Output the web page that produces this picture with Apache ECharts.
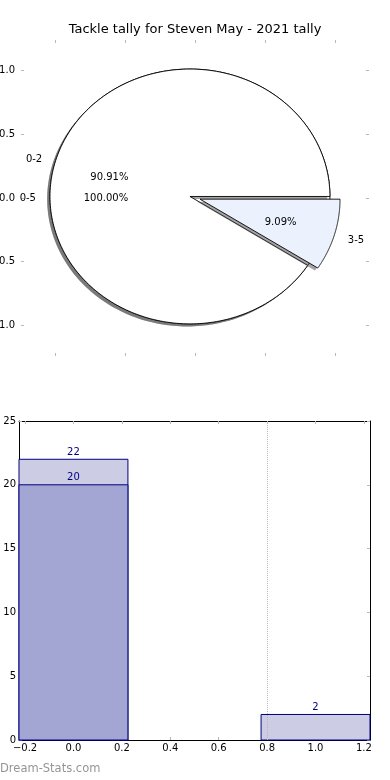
<!DOCTYPE html>
<html>
<head>
<meta charset="utf-8">
<script src="https://cdn.jsdelivr.net/npm/echarts@6/dist/echarts.min.js"></script>
<style>
  html, body { margin: 0; padding: 0; background: #fff; }
  #chart { width: 390px; height: 780px; }
</style>
</head>
<body>
<div id="chart"></div>
<script>
// ---------- data ----------
const titleText = 'Tackle tally for Steven May - 2021 tally';
// outer (full) pie
const outerLabels = ['0-5'];
const outerValues = [22];
// inner pie
const innerLabels = ['0-2', '3-5'];
const innerValues = [20, 2];
const innerExplode = [0, 0.075];
// pie axis ticks
const pieTicks = [-1, -0.5, 0, 0.5, 1];
// bar chart
const barPositions = [0, 1];
const totalCounts = [22, 2];
const lowCounts = [20, null];
const barXTicks = [-0.2, 0, 0.2, 0.4, 0.6, 0.8, 1.0, 1.2];
const barYTicks = [0, 5, 10, 15, 20, 25];
const refLineX = [0.8];
const watermark = 'Dream-Stats.com';

// ---------- style constants ----------
const FONT = 'DejaVu Sans';
const PIE_CENTER = [-0.036, 0.012];
const SHADOW_OFF = [-0.02, -0.02];
const BAR_W = 0.45;
const TICK_COLOR = '#b8b8b8';
const NAVY = '#000080';
const TEXT_DY = 2;

function fmtTick(v) {
  const s = Math.abs(v).toFixed(1);
  return v < 0 ? '\u2212' + s : s;
}

// build pie slice descriptors from values
const slices = [];
function addPie(labels, values, explode, colors) {
  const total = values.reduce((a, b) => a + b, 0);
  let a = 0;
  values.forEach((v, i) => {
    const span = 360 * v / total;
    slices.push({
      label: labels[i],
      pct: (100 * v / total).toFixed(2) + '%',
      a0: a, a1: a + span,
      explode: explode ? explode[i] : 0,
      color: colors[i]
    });
    a += span;
  });
}
addPie(outerLabels, outerValues, null, ['#ffffff']);
addPie(innerLabels, innerValues, innerExplode, ['#ffffff', '#ebf1fd']);

function shadowColor(hex) {
  const r = parseInt(hex.slice(1, 3), 16), g = parseInt(hex.slice(3, 5), 16), b = parseInt(hex.slice(5, 7), 16);
  return 'rgba(' + Math.round(r * 0.3) + ',' + Math.round(g * 0.3) + ',' + Math.round(b * 0.3) + ',0.5)';
}

function pieRender(params, api) {
  const s = slices[params.dataIndex];
  const d2r = Math.PI / 180;
  const mid = (s.a0 + s.a1) / 2 * d2r;
  const cx = PIE_CENTER[0] + s.explode * Math.cos(mid);
  const cy = PIE_CENTER[1] + s.explode * Math.sin(mid);
  const full = (s.a1 - s.a0) >= 359.999;
  function pts(dx, dy) {
    const out = [];
    if (!full) out.push(api.coord([cx + dx, cy + dy]));
    const N = 240;
    for (let k = 0; k <= N; k++) {
      const t = (s.a0 + (s.a1 - s.a0) * k / N) * d2r;
      out.push(api.coord([cx + dx + Math.cos(t), cy + dy + Math.sin(t)]));
    }
    return out;
  }
  const base = params.dataIndex * 2;
  const lp = api.coord([cx + 1.1 * Math.cos(mid), cy + 1.1 * Math.sin(mid)]);
  const pp = api.coord([cx + 0.6 * Math.cos(mid), cy + 0.6 * Math.sin(mid)]);
  return {
    type: 'group',
    children: [
      { type: 'polygon', z2: base, shape: { points: pts(SHADOW_OFF[0], SHADOW_OFF[1]) },
        style: { fill: shadowColor(s.color), stroke: null } },
      { type: 'polygon', z2: base + 1, shape: { points: pts(0, 0) },
        style: { fill: s.color, stroke: '#000', lineWidth: 0.9 } },
      { type: 'text', z2: 100, x: lp[0], y: lp[1] + TEXT_DY,
        style: { text: s.label, fill: '#000', fontSize: 10, fontFamily: FONT,
                 align: Math.cos(mid) < 0 ? 'right' : 'left', verticalAlign: 'middle' } },
      { type: 'text', z2: 100, x: pp[0], y: pp[1] + TEXT_DY,
        style: { text: s.pct, fill: '#000', fontSize: 10, fontFamily: FONT,
                 align: 'center', verticalAlign: 'middle' } }
    ]
  };
}

function barRender(fill) {
  return function (params, api) {
    const x = api.value(0), v = api.value(1);
    const p0 = api.coord([x - BAR_W / 2, v]);
    const p1 = api.coord([x + BAR_W / 2, 0]);
    return {
      type: 'group',
      children: [
        { type: 'rect', shape: { x: p0[0], y: p0[1], width: p1[0] - p0[0], height: p1[1] - p0[1] },
          style: { fill: fill, stroke: NAVY, lineWidth: 1 } },
        { type: 'text', z2: 50, x: (p0[0] + p1[0]) / 2, y: p0[1] - 2,
          style: { text: String(v), fill: NAVY, fontSize: 10, fontFamily: FONT,
                   align: 'center', verticalAlign: 'bottom' } }
      ]
    };
  };
}

function tick(values) {
  return { show: true, inside: true, length: 3, customValues: values,
           lineStyle: { color: TICK_COLOR, width: 1 } };
}
const noLine = { show: false, onZero: false };
const frameLine = { show: true, onZero: false, lineStyle: { color: '#000', width: 1 } };

const option = {
  animation: false,
  backgroundColor: '#fff',
  title: {
    text: titleText, left: 'center', top: 23, padding: 0,
    textStyle: { fontSize: 13, fontWeight: 'normal', fontFamily: FONT, color: '#000' }
  },
  graphic: [{
    type: 'text', left: 0, top: 763,
    style: { text: watermark, fill: '#959595', fontSize: 11.5, fontFamily: FONT }
  }],
  grid: [
    { left: 21, right: 21, top: 40, height: 316, outerBoundsMode: 'none', containLabel: false },
    { left: 19, right: 20, top: 421, height: 319, outerBoundsMode: 'none', containLabel: false }
  ],
  xAxis: [
    { gridIndex: 0, type: 'value', min: -1.243, max: 1.243, position: 'bottom',
      axisLine: noLine, splitLine: { show: false }, axisTick: tick(pieTicks), axisLabel: { show: false } },
    { gridIndex: 0, type: 'value', min: -1.243, max: 1.243, position: 'top',
      axisLine: noLine, splitLine: { show: false }, axisTick: tick(pieTicks), axisLabel: { show: false } },
    { gridIndex: 1, type: 'value', min: -0.225, max: 1.225, position: 'bottom',
      axisLine: frameLine, splitLine: { show: false }, axisTick: tick(barXTicks),
      axisLabel: { customValues: barXTicks, formatter: fmtTick, fontSize: 10, fontFamily: FONT, color: '#000', margin: 3 } },
    { gridIndex: 1, type: 'value', min: -0.225, max: 1.225, position: 'top',
      axisLine: frameLine, splitLine: { show: false }, axisTick: tick(barXTicks), axisLabel: { show: false } }
  ],
  yAxis: [
    { gridIndex: 0, type: 'value', min: -1.24, max: 1.24, position: 'left',
      axisLine: noLine, splitLine: { show: false }, axisTick: tick(pieTicks),
      axisLabel: { customValues: pieTicks, formatter: fmtTick, fontSize: 10, fontFamily: FONT, color: '#000', margin: 6 } },
    { gridIndex: 0, type: 'value', min: -1.24, max: 1.24, position: 'right',
      axisLine: noLine, splitLine: { show: false }, axisTick: tick(pieTicks), axisLabel: { show: false } },
    { gridIndex: 1, type: 'value', min: 0, max: 25, interval: 5, position: 'left',
      axisLine: frameLine, splitLine: { show: false }, axisTick: tick(barYTicks),
      axisLabel: { customValues: barYTicks, fontSize: 10, fontFamily: FONT, color: '#000', margin: 3 } },
    { gridIndex: 1, type: 'value', min: 0, max: 25, interval: 5, position: 'right',
      axisLine: frameLine, splitLine: { show: false }, axisTick: tick(barYTicks), axisLabel: { show: false } }
  ],
  series: [
    { type: 'custom', name: 'pie', xAxisIndex: 0, yAxisIndex: 0, clip: false,
      data: slices.map((s, i) => [i]), renderItem: pieRender },
    { type: 'custom', name: 'total', xAxisIndex: 2, yAxisIndex: 2,
      data: barPositions.map((x, i) => [x, totalCounts[i]]),
      encode: { x: 0, y: 1 }, renderItem: barRender('#cccde4'),
      markLine: { silent: true, symbol: 'none', label: { show: false },
        lineStyle: { type: 'dotted', color: '#b8b8b8', width: 1 },
        data: refLineX.map(x => ({ xAxis: x })) } },
    { type: 'custom', name: 'low', xAxisIndex: 2, yAxisIndex: 2,
      data: barPositions.map((x, i) => [x, lowCounts[i]]).filter(d => d[1] != null),
      encode: { x: 0, y: 1 }, renderItem: barRender('#a3a6d3'), z: 3 }
  ]
};

const chart = echarts.init(document.getElementById('chart'), null, { renderer: 'canvas' });
chart.setOption(option);
</script>
</body>
</html>
